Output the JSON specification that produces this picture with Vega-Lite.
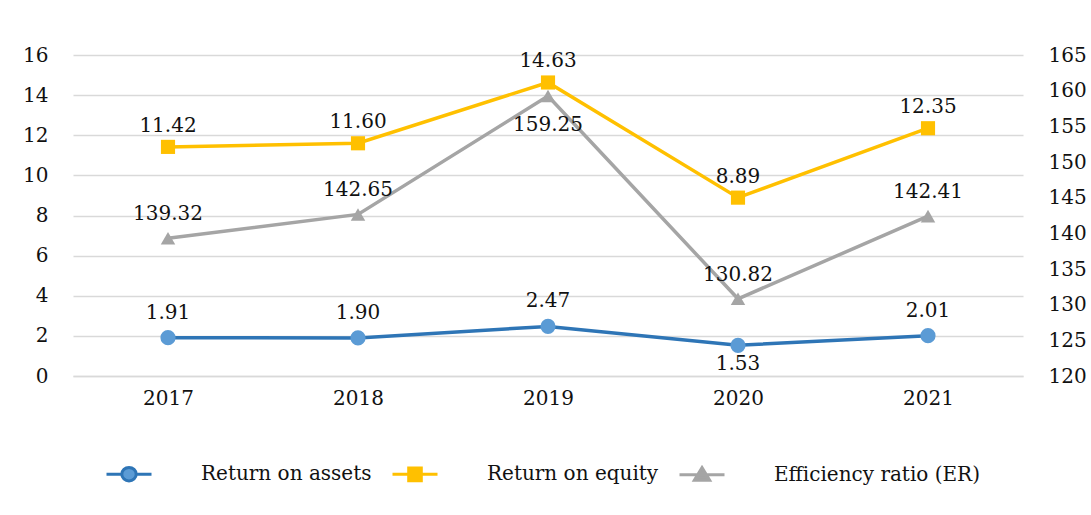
{
  "$schema": "https://vega.github.io/schema/vega-lite/v6.json",
  "width": 950,
  "height": 321,
  "autosize": {"type": "none"},
  "padding": {"left": 73, "top": 55, "right": 68, "bottom": 139},
  "background": "#ffffff",
  "config": {
    "view": {"stroke": null},
    "font": "DejaVu Serif",
    "axis": {"labelFont": "DejaVu Serif", "labelFontSize": 20, "labelColor": "#111111", "ticks": false, "domain": false, "title": null},
    "legend": {"labelFont": "DejaVu Serif", "labelFontSize": 20, "labelColor": "#111111", "labelLimit": 600}
  },
  "data": {
    "values": [
      {"year": "2017", "series": "Return on assets", "value": 1.91},
      {"year": "2018", "series": "Return on assets", "value": 1.90},
      {"year": "2019", "series": "Return on assets", "value": 2.47},
      {"year": "2020", "series": "Return on assets", "value": 1.53},
      {"year": "2021", "series": "Return on assets", "value": 2.01},
      {"year": "2017", "series": "Return on equity", "value": 11.42},
      {"year": "2018", "series": "Return on equity", "value": 11.60},
      {"year": "2019", "series": "Return on equity", "value": 14.63},
      {"year": "2020", "series": "Return on equity", "value": 8.89},
      {"year": "2021", "series": "Return on equity", "value": 12.35},
      {"year": "2017", "series": "Efficiency ratio (ER)", "value": 139.32},
      {"year": "2018", "series": "Efficiency ratio (ER)", "value": 142.65},
      {"year": "2019", "series": "Efficiency ratio (ER)", "value": 159.25},
      {"year": "2020", "series": "Efficiency ratio (ER)", "value": 130.82},
      {"year": "2021", "series": "Efficiency ratio (ER)", "value": 142.41}
    ]
  },
  "encoding": {
    "x": {
      "field": "year", "type": "ordinal",
      "scale": {"type": "point", "padding": 0.5},
      "axis": {"labelAngle": 0, "labelPadding": 12, "domain": true, "domainColor": "#d9d9d9", "domainWidth": 1.5, "grid": false}
    }
  },
  "layer": [
    {
      "transform": [{"filter": "datum.series != 'Efficiency ratio (ER)'"}],
      "encoding": {
        "y": {
          "field": "value", "type": "quantitative",
          "scale": {"domain": [0, 16], "nice": false, "zero": true},
          "axis": {"orient": "left", "values": [0, 2, 4, 6, 8, 10, 12, 14, 16], "grid": true, "gridColor": "#d9d9d9", "gridWidth": 1.5, "labelPadding": 25}
        }
      },
      "layer": [
        {
          "mark": {"type": "line", "strokeWidth": 3.5},
          "encoding": {
            "color": {
              "field": "series", "type": "nominal",
              "scale": {"domain": ["Return on assets", "Return on equity", "Efficiency ratio (ER)"], "range": ["#2e75b6", "#ffc000", "#a5a5a5"]},
              "legend": {
                "title": null, "orient": "none", "legendX": 32, "legendY": 395,
                "direction": "horizontal", "symbolSize": 2025, "symbolStrokeWidth": 3,
                "labelOffset": 48, "columnPadding": 14, "labelLimit": 600,
                "encode": {
                  "symbols": {
                    "update": {
                      "shape": {"signal": "datum.value == 'Return on assets' ? 'M-1,0H-0.32M0.32,0H1M0.32,0A0.32,0.3 0 1 1 -0.32,0A0.32,0.3 0 1 1 0.32,0Z' : datum.value == 'Return on equity' ? 'M-1,0H1M-0.28,-0.28H0.28V0.28H-0.28Z' : 'M-1,0H1M0,-0.32L0.34,0.24H-0.34Z'"},
                      "fill": {"signal": "datum.value == 'Return on assets' ? '#5b9bd5' : scale('color', datum.value)"},
                      "stroke": {"signal": "scale('color', datum.value)"},
                      "strokeWidth": {"value": 3},
                      "opacity": {"value": 1}
                    }
                  }
                }
              }
            }
          }
        },
        {
          "transform": [{"filter": "datum.series == 'Return on assets'"}],
          "mark": {"type": "point", "shape": "circle", "filled": true, "size": 230, "opacity": 1, "color": "#5b9bd5"}
        },
        {
          "transform": [{"filter": "datum.series == 'Return on equity'"}],
          "mark": {"type": "point", "shape": "square", "filled": true, "size": 200, "opacity": 1, "color": "#ffc000"}
        },
        {
          "transform": [{"filter": "datum.series == 'Return on assets' && datum.year != '2020'"}],
          "mark": {"type": "text", "dy": -25, "fontSize": 20, "color": "#111111"},
          "encoding": {"text": {"field": "value", "type": "quantitative", "format": ".2f"}}
        },
        {
          "transform": [{"filter": "datum.series == 'Return on assets' && datum.year == '2020'"}],
          "mark": {"type": "text", "dy": 19, "fontSize": 20, "color": "#111111"},
          "encoding": {"text": {"field": "value", "type": "quantitative", "format": ".2f"}}
        },
        {
          "transform": [{"filter": "datum.series == 'Return on equity'"}],
          "mark": {"type": "text", "dy": -21, "fontSize": 20, "color": "#111111"},
          "encoding": {"text": {"field": "value", "type": "quantitative", "format": ".2f"}}
        }
      ]
    },
    {
      "transform": [{"filter": "datum.series == 'Efficiency ratio (ER)'"}],
      "encoding": {
        "y": {
          "field": "value", "type": "quantitative",
          "scale": {"domain": [120, 165], "nice": false, "zero": false},
          "axis": {"orient": "right", "values": [120, 125, 130, 135, 140, 145, 150, 155, 160, 165], "grid": false, "labelPadding": 25}
        }
      },
      "layer": [
        {
          "mark": {"type": "line", "strokeWidth": 3.5},
          "encoding": {"color": {"field": "series", "type": "nominal"}}
        },
        {
          "mark": {"type": "point", "shape": "triangle-up", "filled": true, "size": 210, "opacity": 1, "color": "#a5a5a5"}
        },
        {
          "transform": [{"filter": "datum.year != '2019'"}],
          "mark": {"type": "text", "dy": -24, "fontSize": 20, "color": "#111111"},
          "encoding": {"text": {"field": "value", "type": "quantitative", "format": ".2f"}}
        },
        {
          "transform": [{"filter": "datum.year == '2019'"}],
          "mark": {"type": "text", "dy": 29, "fontSize": 20, "color": "#111111"},
          "encoding": {"text": {"field": "value", "type": "quantitative", "format": ".2f"}}
        }
      ]
    }
  ],
  "resolve": {"scale": {"y": "independent"}}
}
